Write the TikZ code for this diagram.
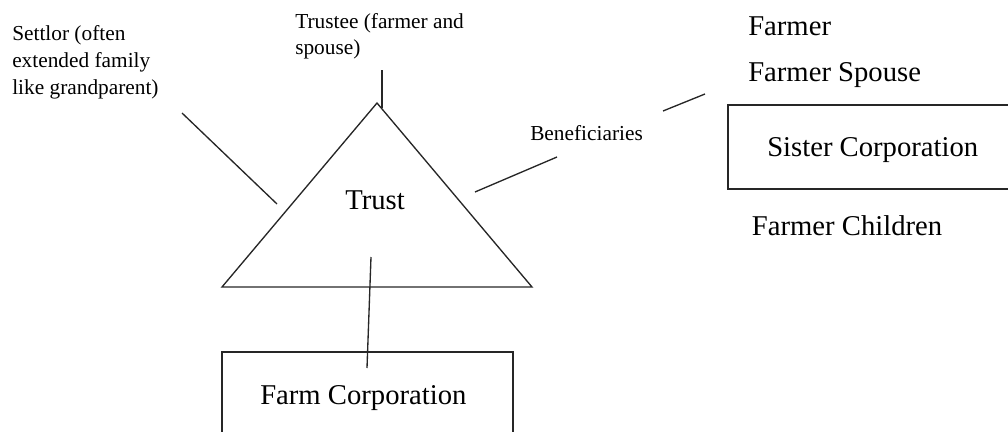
\documentclass[tikz,border=0pt]{standalone}
\usepackage{fontspec}
\setmainfont{Liberation Serif}
\begin{document}
\begin{tikzpicture}[x=0.75pt,y=-0.75pt,
  line/.style={draw=black!85,line width=1pt},
  smalltext/.style={inner sep=0pt,font=\fontsize{16}{20}\selectfont},
  bigtext/.style={inner sep=0pt,font=\fontsize{21.5}{26}\selectfont},
  corpbox/.style={draw=black!85,line width=1.1pt,inner sep=0pt}]
\useasboundingbox (0,0) rectangle (1008,432);
\clip (0,0) rectangle (1008,432);
% triangle
\coordinate (apex) at (377,103);
\coordinate (bl) at (222,287);
\coordinate (br) at (532,287);
\draw[line] (apex) -- (bl) -- (br) -- cycle;
\node[bigtext,anchor=base west] (trust) at (345,209) {Trust};
% boxes
\node[corpbox,minimum width=218.25pt,minimum height=64.5pt] (farmbox) at (367.5,395) {};
\node[bigtext,anchor=base west] (farm) at (260,404) {Farm Corporation};
\node[corpbox,minimum width=216pt,minimum height=63pt] (sisbox) at (872,147) {};
\node[bigtext,anchor=base west] (sister) at (767,156.7) {Sister Corporation};
% labels
\node[smalltext,anchor=north west,align=left,font=\fontsize{16}{20.4}\selectfont] (settlor) at (12,25) {Settlor (often\\extended family\\like grandparent)};
\node[smalltext,anchor=north west,align=left,font=\fontsize{16}{19.2}\selectfont] (trustee) at (295,13.5) {Trustee (farmer and\\spouse)};
\node[smalltext,anchor=base west] (benef) at (530,140) {Beneficiaries};
\node[bigtext,anchor=base west] (farmer) at (748,36) {Farmer};
\node[bigtext,anchor=base west] (spouse) at (748,81.7) {Farmer Spouse};
\node[bigtext,anchor=base west] (children) at (751.7,235) {Farmer Children};
% connectors
\coordinate (s1) at (182,113);
\coordinate (s2) at (277,204);
\coordinate (t1) at (382,70);
\coordinate (t2) at (382,108);
\coordinate (b1) at (475,192);
\coordinate (b2) at (557,157);
\coordinate (b3) at (663,111);
\coordinate (b4) at (705,94);
\coordinate (f1) at (371,257);
\coordinate (f2) at (367,368);
\draw[line] (s1) -- (s2);
\draw[line] (t1) -- (t2);
\draw[line] (b1) -- (b2);
\draw[line] (b3) -- (b4);
\draw[line] (f1) -- (f2);
\end{tikzpicture}
\end{document}
